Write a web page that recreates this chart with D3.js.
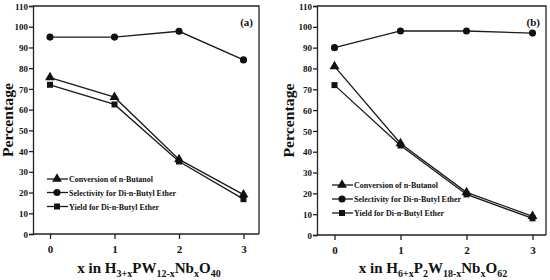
<!DOCTYPE html>
<html>
<head>
<meta charset="utf-8">
<script src="https://cdn.jsdelivr.net/npm/d3@7"></script>
<style>
  body { margin: 0; background: #fff; }
  text { font-family: "Liberation Serif", "Times New Roman", serif; font-weight: bold; fill: #111; }
</style>
</head>
<body>
<svg id="chart" width="550" height="280"></svg>
<script>
// values
var xCats = [0, 1, 2, 3];
var yTicks = [0, 10, 20, 30, 40, 50, 60, 70, 80, 90, 100, 110];
var seriesNames = ["Conversion of n-Butanol", "Selectivity for Di-n-Butyl  Ether", "Yield for Di-n-Butyl  Ether"];
var convA = [75.5, 66, 36, 19];
var selA = [95, 95, 97.8, 84];
var yieldA = [72, 62.5, 35, 16.8];
var convB = [81, 44, 20.5, 9];
var selB = [90, 98, 98, 97];
var yieldB = [72, 43, 19.5, 8];

var svg = d3.select("#chart");
var symbols = [d3.symbolTriangle, d3.symbolCircle, d3.symbolSquare];
var symSize = [42, 40, 36];

function drawPanel(cfg) {
    var g = svg.append("g");
    var x = d3.scaleLinear().domain([0, 3]).range([cfg.x0, cfg.x3]);
    var y = d3.scaleLinear().domain([0, 110]).range([cfg.bottom, cfg.top]);

    // frame
    g.append("path")
        .attr("d", "M" + cfg.left + "," + cfg.top + "H" + cfg.right + "V" + cfg.bottom)
        .attr("fill", "none").attr("stroke", "#222").attr("stroke-width", 1.3);

    var yAxis = g.append("g")
        .attr("transform", "translate(" + cfg.left + ",0)")
        .call(d3.axisLeft(y).tickValues(yTicks).tickSize(4).tickPadding(1));
    yAxis.selectAll("text").style("font-size", "9px").attr("dy", "0.35em");

    var xAxis = g.append("g")
        .attr("transform", "translate(0," + cfg.bottom + ")")
        .call(d3.axisBottom(x).tickValues(xCats).tickFormat(d3.format("d")).tickSize(5).tickPadding(6));
    xAxis.select(".domain").attr("d", "M" + cfg.left + ",0H" + cfg.right);
    xAxis.selectAll("text").style("font-size", "11px");

    [yAxis, xAxis].forEach(function(a) {
        a.selectAll("path, line").attr("stroke", "#222").attr("stroke-width", 1.3);
    });

    var line = d3.line().x(function(d, i) { return x(xCats[i]); }).y(function(d) { return y(d); });
    cfg.series.forEach(function(vals, k) {
        g.append("path").datum(vals)
            .attr("d", line).attr("fill", "none").attr("stroke", "#1a1a1a").attr("stroke-width", 1.3);
        g.selectAll(null).data(vals).enter().append("path")
            .attr("transform", function(d, i) { return "translate(" + x(xCats[i]) + "," + y(d) + ")"; })
            .attr("d", d3.symbol().type(symbols[k]).size(symSize[k]))
            .attr("fill", "#111");
    });

    // legend
    cfg.legendY.forEach(function(ly, k) {
        g.append("line").attr("x1", cfg.legX).attr("x2", cfg.legX + 21).attr("y1", ly).attr("y2", ly)
            .attr("stroke", "#1a1a1a").attr("stroke-width", 1.3);
        g.append("path").attr("transform", "translate(" + (cfg.legX + 10) + "," + ly + ")")
            .attr("d", d3.symbol().type(symbols[k]).size(symSize[k]))
            .attr("fill", "#111");
        g.append("text").attr("x", cfg.legX + 22).attr("y", ly + 3)
            .style("font-size", "8px").text(seriesNames[k]);
    });

    g.append("text").attr("x", cfg.right - 6).attr("y", cfg.top + 20)
        .attr("text-anchor", "end").style("font-size", "11px").text(cfg.tag);

    g.append("text")
        .attr("transform", "translate(" + cfg.ylabX + "," + ((cfg.top + cfg.bottom) / 2) + ") rotate(-90)")
        .attr("text-anchor", "middle").style("font-size", "14px")
        .attr("textLength", 74).attr("lengthAdjust", "spacingAndGlyphs").text("Percentage");

    var t = g.append("text").attr("x", cfg.titleX).attr("y", 273)
        .attr("text-anchor", "middle").style("font-size", "15px");
    cfg.title.forEach(function(p) {
        var s = t.append("tspan").text(p[0]);
        if (p[1]) s.style("font-size", "10px").attr("dy", 4);
        else s.attr("dy", p[2] || 0);
    });
}

drawPanel({
    left: 33, right: 259, top: 6, bottom: 234, x0: 50, x3: 243.5,
    series: [convA, selA, yieldA], legendY: [179, 192.5, 206.5], legX: 47,
    tag: "(a)", ylabX: 13, titleX: 149,
    title: [["x in H"], ["3+x", 1], ["PW", 0, -4], ["12-x", 1], ["Nb", 0, -4], ["x", 1], ["O", 0, -4], ["40", 1]]
});
drawPanel({
    left: 317, right: 546, top: 6, bottom: 235, x0: 334.5, x3: 532.5,
    series: [convB, selB, yieldB], legendY: [185, 199, 213], legX: 332,
    tag: "(b)", ylabX: 294, titleX: 433,
    title: [["x in H"], ["6+x", 1], ["P", 0, -4], ["2", 1], ["W", 0, -4], ["18-x", 1], ["Nb", 0, -4], ["x", 1], ["O", 0, -4], ["62", 1]]
});
</script>
</body>
</html>
